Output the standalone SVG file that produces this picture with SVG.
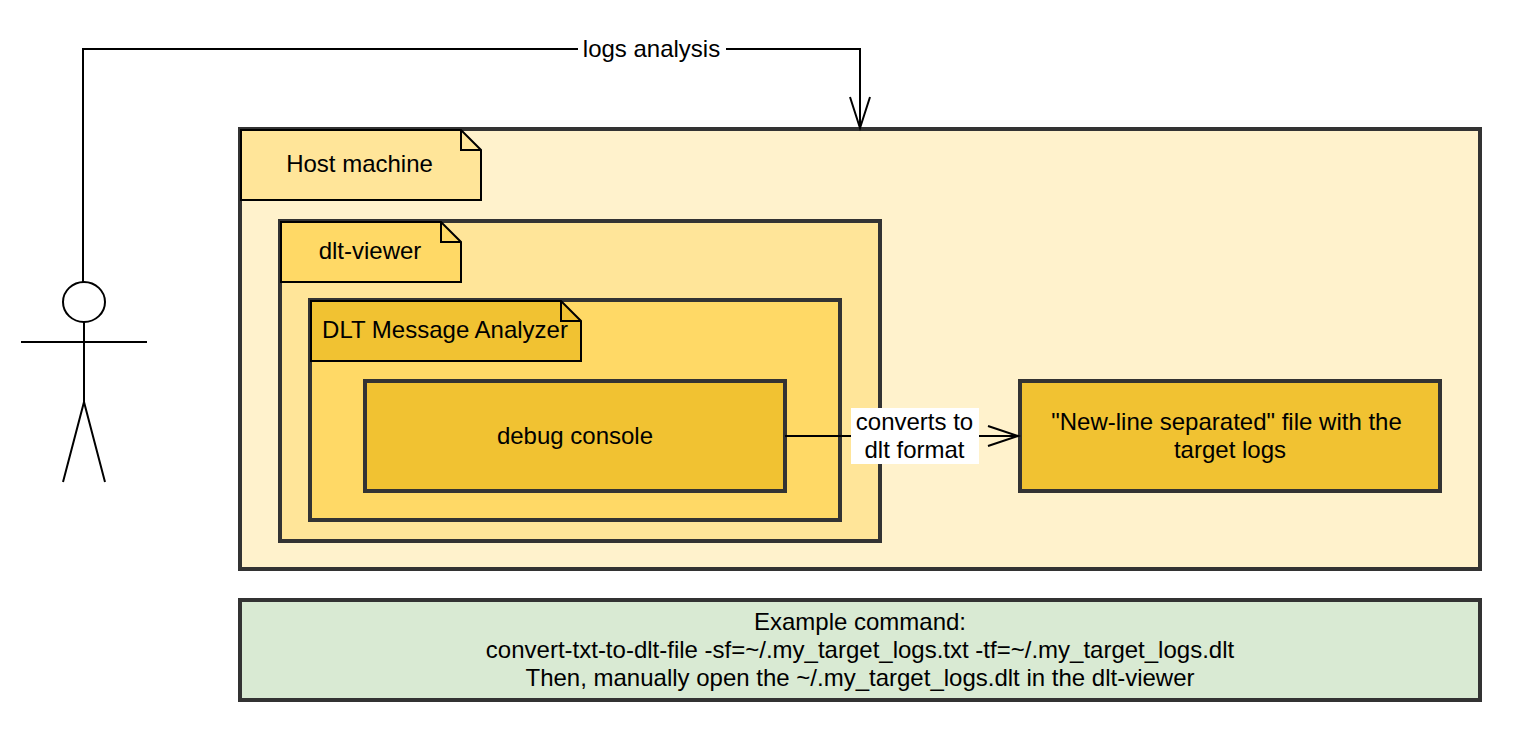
<svg xmlns="http://www.w3.org/2000/svg" width="1520" height="740" viewBox="0 0 1520 740">
<style>
text{font-family:"Liberation Sans",Arial,Helvetica,sans-serif;font-size:12px;fill:#000;text-anchor:middle}
.box{stroke:#333;stroke-width:2}
.note{stroke:#000;stroke-width:1;stroke-miterlimit:10}
.ln{fill:none;stroke:#000;stroke-width:1;stroke-miterlimit:10}
</style>
<rect width="1520" height="740" fill="#fff"/>
<g transform="scale(2)">
<g id="host"><rect class="box" x="120" y="64.5" width="620" height="220" fill="#fff2cc"/></g>
<g id="host-note"><path class="note" d="M120.500 65H230.500L240.500 75V100H120.500Z" fill="#ffe599"/><path class="note" fill="none" d="M230.500 65V75H240.500"/><text x="179.750" y="86">Host machine</text></g>
<g id="dlt-viewer"><rect class="box" x="140" y="110.500" width="300" height="160" fill="#ffe599"/></g>
<g id="viewer-note"><path class="note" d="M140.500 111H220.500L230.500 121V141H140.500Z" fill="#ffd966"/><path class="note" fill="none" d="M220.500 111V121H230.500"/><text x="185" y="129.500">dlt-viewer</text></g>
<g id="analyzer"><rect class="box" x="155" y="150" width="265" height="110" fill="#ffd966"/></g>
<g id="analyzer-note"><path class="note" d="M155.500 150.500H280.500L290.500 160.500V180.500H155.500Z" fill="#f1c232"/><path class="note" fill="none" d="M280.500 150.500V160.500H290.500"/><text x="222.500" y="169">DLT Message Analyzer</text></g>
<g id="debug-console"><rect class="box" x="182.500" y="190.500" width="210" height="55" fill="#f1c232"/><text x="287.500" y="222">debug console</text></g>
<g id="target-file"><rect class="box" x="510" y="190.500" width="210" height="55" fill="#f1c232"/><text x="613.250" y="215">"New-line separated" file with the</text><text x="615" y="229">target logs</text></g>
<g id="example"><rect class="box" x="120" y="300" width="620" height="50" fill="#d9ead3"/><text x="430" y="315">Example command:</text><text x="430" y="329">convert-txt-to-dlt-file -sf=~/.my_target_logs.txt -tf=~/.my_target_logs.dlt</text><text x="430" y="343">Then, manually open the ~/.my_target_logs.dlt in the dlt-viewer</text></g>
<g id="actor" class="ln"><ellipse cx="42" cy="151" rx="10.500" ry="10" fill="#fff"/><path d="M42 161V201M10.500 171H73.500M31.500 241L42 201L52.500 241"/></g>
<g id="connectors">
<path class="ln" d="M41.500 141V24.500H430V64M425 48.500L430 64L435 48.500"/>
<path class="ln" d="M392.500 218H509M494 213L509 218L494 223"/>
<rect x="289" y="17" width="74" height="15" fill="#fff"/><text x="325.750" y="28.500">logs analysis</text>
<rect x="425.500" y="204" width="64" height="28" fill="#fff"/><text x="457.250" y="215">converts to</text><text x="457.250" y="229">dlt format</text>
</g>
</g>
</svg>
